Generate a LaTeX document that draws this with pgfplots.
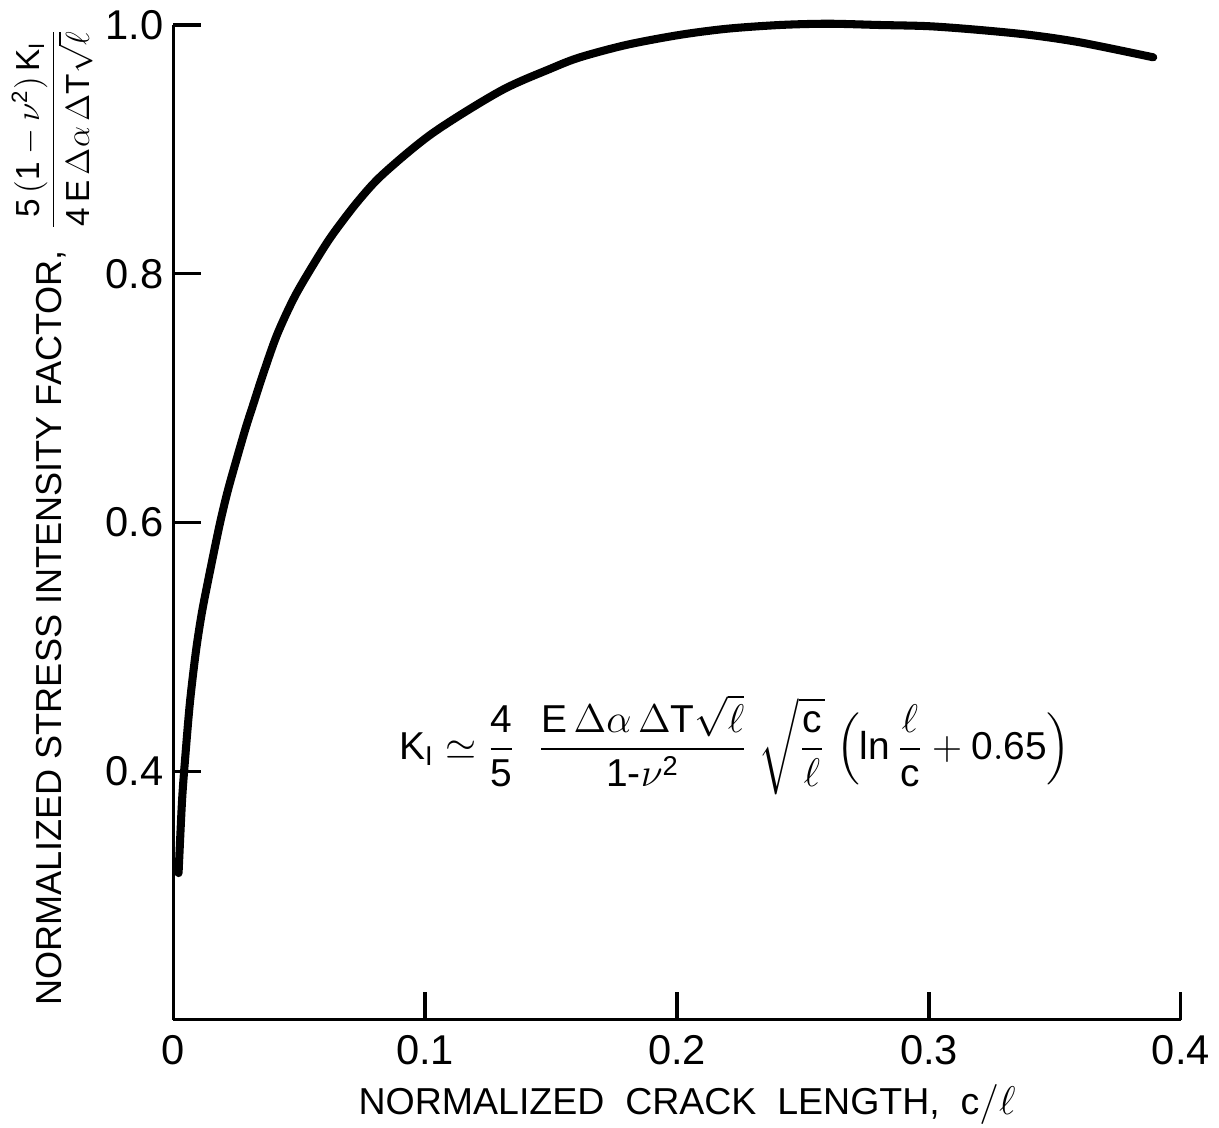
\documentclass[border=0pt]{standalone}
\usepackage{amsmath}
\usepackage{fontspec}
\setmainfont{Liberation Sans}
\setsansfont{Liberation Sans}
\usepackage{pgfplots}
\pgfplotsset{compat=1.18}
\newcommand{\R}[1]{\mathrm{#1}}
\begin{document}
\begin{tikzpicture}
\begin{axis}[
  scale only axis,
  width=362.9pt, height=358.2pt,
  xmin=0, xmax=0.4, ymin=0.2, ymax=1.0,
  axis lines=left,
  axis line style={-, line width=1.1pt},
  every tick/.style={line width=1.1pt, black},
  tick align=inside,
  major tick length=10pt,
  xtick={0,0.1,0.2,0.3,0.4},
  xticklabels={0,0.1,0.2,0.3,0.4},
  ytick={0.4,0.6,0.8,1.0},
  yticklabels={0.4,0.6,0.8,1.0},
  tick label style={font=\fontsize{15}{18}\selectfont},
  xticklabel style={yshift=-2pt},
  label style={font=\fontsize{13.5}{16}\selectfont},
  xlabel={NORMALIZED\ \ CRACK\ \ LENGTH,\ \ $\R{c}/\ell$},
  xlabel style={at={(axis description cs:0.51,-0.085)}, anchor=center},
  ylabel={\fontsize{13}{16}\selectfont NORMALIZED STRESS INTENSITY FACTOR,\ \ {\fontsize{12}{14}\selectfont$\dfrac{\R{5}\,(\R{1}-\nu^{\R{2}})\,\R{K_I}}{\R{4}\,\R{E}\,\Delta\alpha\,\Delta\R{T}\sqrt{\ell}}$}},
  ylabel style={at={(axis description cs:-0.12,0.505)}, anchor=center, rotate=0},
  clip=false,
]
\addplot[black, line width=2.9pt, line cap=round, line join=round, smooth, tension=0.5] coordinates {
(0.0022,0.318) (0.0036,0.377) (0.0050,0.415) (0.0067,0.455) (0.0090,0.495)
(0.0115,0.528) (0.0151,0.565) (0.0187,0.600) (0.0218,0.626) (0.0254,0.652)
(0.0290,0.677) (0.0317,0.694) (0.0357,0.719) (0.0413,0.751) (0.0484,0.782)
(0.0571,0.812) (0.0635,0.832) (0.0733,0.858) (0.0833,0.880) (0.1030,0.913)
(0.1300,0.947) (0.1500,0.965) (0.1615,0.974) (0.1800,0.984) (0.2010,0.992)
(0.2200,0.997) (0.2410,1.000) (0.2600,1.001) (0.2800,1.000) (0.3000,0.999)
(0.3200,0.996) (0.3400,0.992) (0.3600,0.986) (0.3890,0.974)
};
\node[font=\fontsize{14}{17}\selectfont] at (axis cs:0.223,0.421)
  {$\R{K_I}\simeq\dfrac{\R{4}}{\R{5}}\;\;\dfrac{\R{E}\,\Delta\alpha\,\Delta\R{T}\sqrt{\ell}}{\R{1}\text{-}\nu^{\R{2}}}\;\sqrt{\dfrac{\R{c}}{\ell}}\;\Bigl(\ln\dfrac{\ell}{\R{c}}+\R{0.65}\Bigr)$};
\end{axis}
\pgfresetboundingbox
\path[use as bounding box] ([shift={(-62.3pt,-38.9pt)}]current axis.south west) rectangle ([shift={(13.7pt,9pt)}]current axis.north east);
\end{tikzpicture}
\end{document}
